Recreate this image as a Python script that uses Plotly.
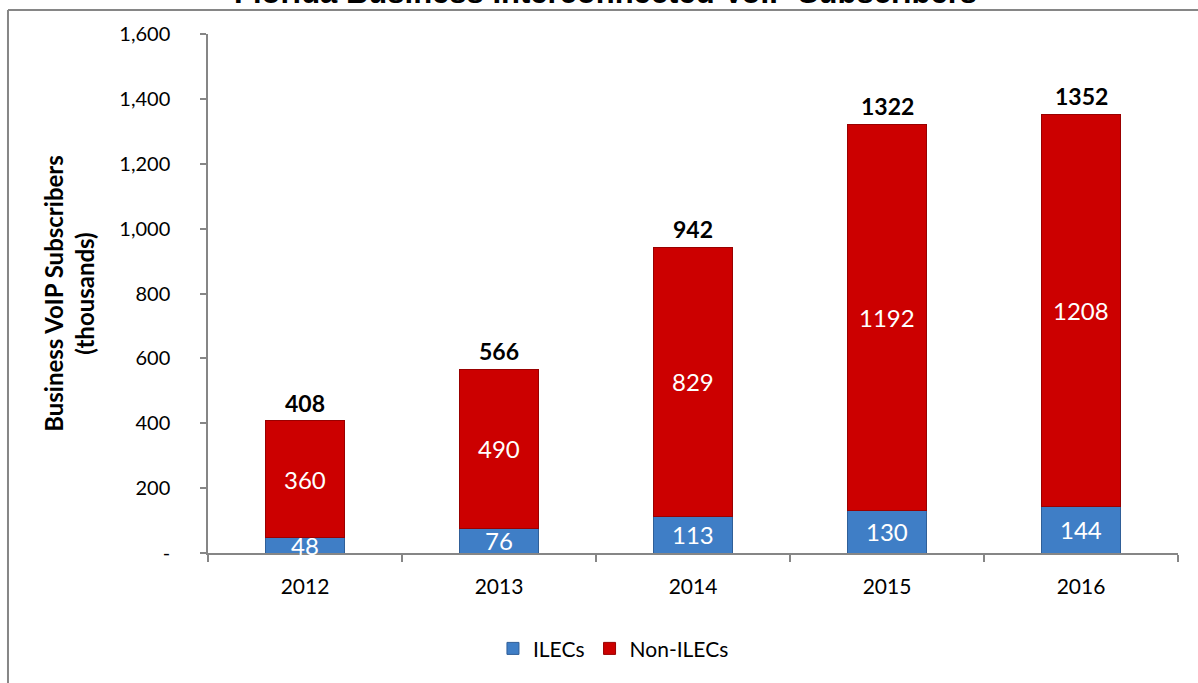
import plotly.graph_objects as go

years = ["2012", "2013", "2014", "2015", "2016"]
ilecs = [48, 76, 113, 130, 144]
non_ilecs = [360, 490, 829, 1192, 1208]
totals = [408, 566, 942, 1322, 1352]
y_tickvals = [0, 200, 400, 600, 800, 1000, 1200, 1400, 1600]
y_ticktext = ["-", "200", "400", "600", "800", "1,000", "1,200", "1,400", "1,600"]

FONT = "Lato"
BLUE = "#3f7ec6"
RED = "#cc0000"
GRAY = "#868686"

fig = go.Figure()
fig.add_trace(go.Bar(
    x=years, y=ilecs, name="ILECs", width=0.41,
    marker=dict(color=BLUE, line=dict(color="#2f5f98", width=1)),
))
fig.add_trace(go.Bar(
    x=years, y=non_ilecs, name="Non-ILECs", width=0.41,
    marker=dict(color=RED, line=dict(color="#990000", width=1)),
))

annotations = []
for i, (a, b, t) in enumerate(zip(ilecs, non_ilecs, totals)):
    annotations.append(dict(x=i, y=a / 2, text=str(a), showarrow=False,
                            font=dict(family=FONT, size=24, color="white"),
                            xref="x", yref="y"))
    annotations.append(dict(x=i, y=a + b / 2, text=str(b), showarrow=False,
                            font=dict(family=FONT, size=24, color="white"),
                            xref="x", yref="y"))
    annotations.append(dict(x=i, y=t, text="<b>" + str(t) + "</b>", showarrow=False,
                            yanchor="bottom", yshift=2,
                            font=dict(family=FONT, size=23, color="black"),
                            xref="x", yref="y"))

# Title (cut off at the top in the reference)
annotations.append(dict(x=0.41, y=1, xref="paper", yref="paper", yanchor="bottom",
                        xanchor="center", yshift=22,
                        text="<b>Florida Business Interconnected VoIP Subscribers</b>",
                        showarrow=False, font=dict(family="Liberation Sans", size=31, color="black")))

fig.update_layout(
    width=1198, height=683,
    margin=dict(l=208, r=20, t=34, b=130, autoexpand=False),
    paper_bgcolor="white", plot_bgcolor="white",
    barmode="stack",
    showlegend=True,
    legend=dict(orientation="h", x=0.418, xanchor="center", y=-0.145, yanchor="top",
                font=dict(family=FONT, size=21, color="black"),
                traceorder="normal"),
    annotations=annotations,
    xaxis=dict(
        type="category", automargin=False, range=[-0.5, 4.5],
        showline=True, linecolor=GRAY, linewidth=1.5,
        ticks="outside", ticklen=7, tickcolor=GRAY, tickwidth=1.5,
        tickson="boundaries",
        tickfont=dict(family=FONT, size=21, color="black"),
        ticklabelstandoff=14,
        showgrid=False,
    ),
    yaxis=dict(
        range=[0, 1600], automargin=False,
        tickvals=y_tickvals, ticktext=y_ticktext,
        showline=True, linecolor=GRAY, linewidth=1.5,
        ticks="outside", ticklen=6, tickcolor=GRAY, tickwidth=1.5,
        tickfont=dict(family=FONT, size=20, color="black"),
        ticklabelstandoff=26,
        showgrid=False, zeroline=False,
        title=dict(text="<b>Business VoIP Subscribers<br>(thousands)</b>",
                   font=dict(family=FONT, size=24, color="black"), standoff=18),
    ),
    shapes=[
        dict(type="line", xref="paper", yref="paper", x0=-0.2062, x1=1.03,
             y0=1.0462, y1=1.0462, line=dict(color=GRAY, width=2)),
        dict(type="line", xref="paper", yref="paper", x0=-0.2062, x1=-0.2062,
             y0=1.0462, y1=-0.3, line=dict(color=GRAY, width=2)),
    ],
)

fig.write_html("out.html", config={"displayModeBar": False},
               post_script="document.body.style.margin='0';")
